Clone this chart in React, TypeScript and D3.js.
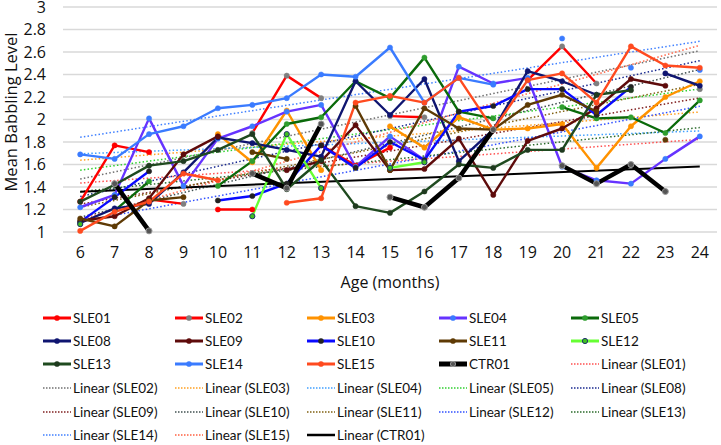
import React from "react";
import * as d3 from "d3";

const months = [6, 7, 8, 9, 10, 11, 12, 13, 14, 15, 16, 17, 18, 19, 20, 21, 22, 23, 24];
const yTicks = [1, 1.2, 1.4, 1.6, 1.8, 2, 2.2, 2.4, 2.6, 2.8, 3];

type V = number | null;
const sle01: V[] = [1.27, 1.77, 1.71, null, 1.2, 1.2, null, 1.77, 1.59, 1.75, null, null, null, null, null, null, null, null, null];
const sle02: V[] = [null, null, 1.29, 1.25, null, 1.88, 2.39, 2.19, null, 2.03, 2.02, null, null, 2.35, 2.65, 2.32, null, null, 2.27];
const sle03: V[] = [null, null, null, null, 1.87, 1.62, 2.08, 1.55, null, 1.94, 1.75, 2.02, 1.91, 1.92, 1.96, 1.57, 1.94, 2.2, 2.34];
const sle04: V[] = [1.22, 1.33, 2.01, 1.41, 1.83, 1.94, 2.07, 2.13, 1.58, 1.85, 1.64, 2.47, 2.32, 2.37, 1.58, 1.46, 1.43, 1.65, 1.85];
const sle05: V[] = [null, 1.19, 1.45, null, 1.41, 1.63, 1.96, 2.02, 2.34, 2.19, 2.55, 2.07, 2.01, null, 2.11, 2.01, 2.02, 1.88, 2.17];
const sle08: V[] = [1.08, 1.21, 1.25, 1.53, 1.84, 1.79, 1.73, 1.67, 2.34, 2.04, 2.36, 1.63, 1.91, 2.43, 2.34, 2.22, null, 2.41, 2.3];
const sle09: V[] = [1.1, 1.14, 1.3, 1.69, 1.85, null, 1.55, 1.63, 1.95, 1.55, 1.56, 1.83, 1.33, 1.81, 1.92, 2.1, 2.36, 2.3, null];
const sle10: V[] = [1.09, 1.31, 1.54, null, 1.28, 1.32, 1.43, 1.77, 1.57, 1.8, 1.64, 2.07, 2.12, 2.27, 2.27, 2.04, 2.29, null, null];
const sle11: V[] = [1.12, 1.05, 1.28, 1.31, null, 1.71, 1.65, null, 2.12, 1.55, 2.1, 1.92, 1.91, 2.13, 2.22, 2.07, null, 1.82, null];
const sle12: V[] = [1.07, null, null, null, null, 1.14, 1.87, 1.39, null, 1.57, 1.62, null, null, null, null, null, null, null, null];
const sle13: V[] = [1.27, 1.42, 1.59, 1.63, 1.73, 1.87, 1.38, 1.64, 1.23, 1.17, 1.36, 1.6, 1.57, 1.73, 1.73, 2.22, 2.26, null, null];
const sle14: V[] = [1.69, 1.65, 1.87, 1.94, 2.1, 2.13, 2.19, 2.4, 2.38, 2.64, 2.15, 2.37, 2.31, null, 2.72, null, 2.46, null, 2.44];
const sle15: V[] = [1.01, 1.18, 1.27, 1.52, 1.46, null, 1.26, 1.3, 2.15, 2.21, 2.15, 2.37, 1.91, 2.35, 2.41, 2.15, 2.65, 2.48, 2.46];
const ctr01: V[] = [null, 1.43, 1.01, null, null, 1.52, 1.39, 1.96, null, 1.31, 1.22, 1.48, 1.91, null, 1.59, 1.43, 1.6, 1.36, null];

const seriesNames = ["SLE01", "SLE02", "SLE03", "SLE04", "SLE05", "SLE08", "SLE09", "SLE10", "SLE11", "SLE12", "SLE13", "SLE14", "SLE15", "CTR01"];
const seriesValues = [sle01, sle02, sle03, sle04, sle05, sle08, sle09, sle10, sle11, sle12, sle13, sle14, sle15, ctr01];
const lineColors = ["#FF0000", "#FF0000", "#FF9200", "#6633FF", "#0A6A0A", "#0F1570", "#5E0B0B", "#0A0AFF", "#5E3A05", "#66FF33", "#1F4A1F", "#3A7BFF", "#FF4A1F", "#000000"];
const markerFills = ["#FF0000", "#7F7F7F", "#FF9200", "#3A7BFF", "#2E9E2E", "#0F1570", "#5E0B0B", "#222222", "#5E3A05", "#40C020", "#1F3A1F", "#3A7BFF", "#FF4A1F", "#555555"];
const markerStrokes = ["#FF0000", "#7F7F7F", "#FF9200", "#3A7BFF", "#2E9E2E", "#0F1570", "#5E0B0B", "#222222", "#5E3A05", "#1F2F6F", "#1F3A1F", "#3A7BFF", "#FF4A1F", "#9A9A9A"];
const trendColors = ["#FF5050", "#707070", "#FFA020", "#40A0FF", "#30D030", "#1A2A90", "#802020", "#405050", "#806010", "#3050FF", "#2A6A2A", "#4080FF", "#FF6040", "#000000"];

const W = 721;
const H = 445;
const font = "'Open Sans', 'Noto Sans', sans-serif";

function fit(vals: V[]) {
  const pts = months.map((m, i) => [m, vals[i]] as [number, V]).filter((p) => p[1] != null) as [number, number][];
  const mx = d3.mean(pts, (p) => p[0])!;
  const my = d3.mean(pts, (p) => p[1])!;
  const num = d3.sum(pts, (p) => (p[0] - mx) * (p[1] - my));
  const den = d3.sum(pts, (p) => (p[0] - mx) ** 2);
  const b = num / den;
  return (m: number) => my + b * (m - mx);
}

export default function App() {
  const x = d3.scalePoint<string>().domain(months.map(String)).range([63, 717]).padding(0.5);
  const y = d3.scaleLinear().domain([1, 3]).range([232, 7]);
  const xm = (m: number) => x(String(m))!;

  const line = d3
    .line<[number, V]>()
    .defined((d) => d[1] != null)
    .x((d) => xm(d[0]))
    .y((d) => y(d[1] as number));

  const legendItems: { label: string; idx: number; trend: boolean }[] = [];
  seriesNames.forEach((n, i) => legendItems.push({ label: n, idx: i, trend: false }));
  seriesNames.forEach((n, i) => legendItems.push({ label: `Linear (${n})`, idx: i, trend: true }));

  const legColX = [43, 175, 307, 439, 571];
  const legRowY = [318, 341, 364, 388, 412, 435];

  return (
    <svg width={W} height={H} style={{ position: "absolute", left: 0, top: 0, background: "#fff" }} fontFamily={font}>
      {yTicks.map((t) => (
        <line key={t} x1={63} x2={717} y1={y(t)} y2={y(t)} stroke="#D9D9D9" strokeWidth={1.3} />
      ))}
      {yTicks.map((t) => (
        <text key={"l" + t} x={46} y={y(t) + 5.5} textAnchor="end" fontSize={16} fill="#111">
          {String(+t.toFixed(1))}
        </text>
      ))}
      {months.map((m) => (
        <text key={"x" + m} x={xm(m)} y={258} textAnchor="middle" fontSize={16} fill="#111">
          {m}
        </text>
      ))}
      <text x={390} y={288} textAnchor="middle" fontSize={16} fill="#111">
        Age (months)
      </text>
      <text transform="translate(17,112) rotate(-90)" textAnchor="middle" fontSize={16.5} fill="#111">
        Mean Babbling Level
      </text>

      {seriesValues.map((vals, i) => {
        const f = fit(vals);
        return (
          <line
            key={"t" + i}
            x1={xm(6)}
            x2={xm(24)}
            y1={y(f(6))}
            y2={y(f(24))}
            stroke={trendColors[i]}
            strokeWidth={i === 13 ? 2 : 1.5}
            strokeDasharray={i === 13 ? undefined : "1.5 2.2"}
          />
        );
      })}

      {seriesValues.map((vals, i) => (
        <path
          key={"s" + i}
          d={line(months.map((m, j) => [m, vals[j]] as [number, V])) || ""}
          fill="none"
          stroke={lineColors[i]}
          strokeWidth={i === 13 ? 4.5 : 2.4}
          strokeLinejoin="round"
        />
      ))}
      {seriesValues.map((vals, i) =>
        months.map((m, j) =>
          vals[j] == null ? null : (
            <circle
              key={"m" + i + "-" + j}
              cx={xm(m)}
              cy={y(vals[j] as number)}
              r={i === 13 ? 3 : 2.6}
              fill={markerFills[i]}
              stroke={markerStrokes[i]}
              strokeWidth={i === 9 || i === 13 ? 1 : 0.5}
            />
          )
        )
      )}

      {legendItems.map((it, k) => {
        const col = k % 5;
        const row = Math.floor(k / 5);
        const lx = legColX[col];
        const ly = legRowY[row];
        const i = it.idx;
        return (
          <g key={"lg" + k}>
            {it.trend ? (
              <line
                x1={lx}
                x2={lx + 28}
                y1={ly}
                y2={ly}
                stroke={trendColors[i]}
                strokeWidth={i === 13 ? 2.5 : 1.5}
                strokeDasharray={i === 13 ? undefined : "1.5 1.5"}
              />
            ) : (
              <g>
                <line x1={lx} x2={lx + 28} y1={ly} y2={ly} stroke={lineColors[i]} strokeWidth={i === 13 ? 5 : 3} />
                <circle cx={lx + 14} cy={ly} r={2.6} fill={markerFills[i]} stroke={markerStrokes[i]} strokeWidth={i === 9 || i === 13 ? 1 : 0.5} />
              </g>
            )}
            <text x={lx + 30} y={ly + 5} fontSize={13.5} fill="#111" fontFamily="Lato, 'Open Sans', sans-serif">
              {it.label}
            </text>
          </g>
        );
      })}
    </svg>
  );
}
